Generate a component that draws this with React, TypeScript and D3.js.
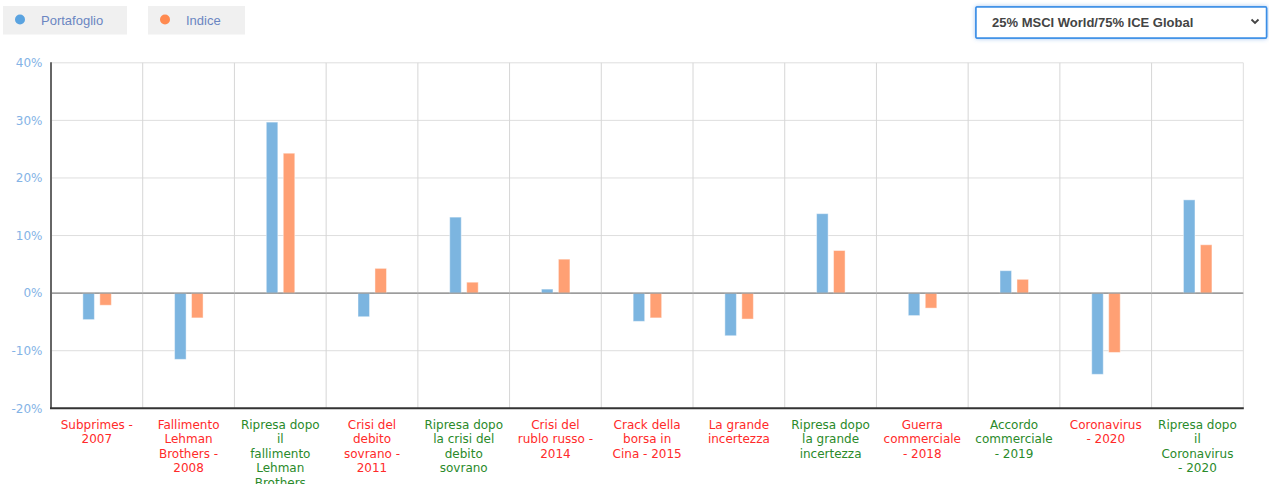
import React from "react";
import * as d3 from "d3";

// Stress-scenario returns (%) for the portfolio and its benchmark index
const categories: string[][] = [
  ["Subprimes -", "2007"],
  ["Fallimento", "Lehman", "Brothers -", "2008"],
  ["Ripresa dopo", "il", "fallimento", "Lehman", "Brothers", "- 2008"],
  ["Crisi del", "debito", "sovrano -", "2011"],
  ["Ripresa dopo", "la crisi del", "debito", "sovrano"],
  ["Crisi del", "rublo russo -", "2014"],
  ["Crack della", "borsa in", "Cina - 2015"],
  ["La grande", "incertezza"],
  ["Ripresa dopo", "la grande", "incertezza"],
  ["Guerra", "commerciale", "- 2018"],
  ["Accordo", "commerciale", "- 2019"],
  ["Coronavirus", "- 2020"],
  ["Ripresa dopo", "il", "Coronavirus", "- 2020"],
];
// true = recovery phase (green label), false = crisis (red label)
const recovery: boolean[] = [false, false, true, false, true, false, false, false, true, false, true, false, true];
const portafoglio: number[] = [-4.6, -11.5, 29.7, -4.1, 13.2, 0.7, -4.9, -7.4, 13.8, -3.9, 3.9, -14.1, 16.2];
const indice: number[] = [-2.1, -4.3, 24.3, 4.3, 1.9, 5.9, -4.3, -4.5, 7.4, -2.6, 2.4, -10.3, 8.4];
const yTicks: number[] = [-20, -10, 0, 10, 20, 30, 40];
const seriesNames: string[] = ["Portafoglio", "Indice"];
const seriesColors: string[] = ["#7cb5e0", "#ffa074"];
const selectedBenchmark = "25% MSCI World/75% ICE Global";

const W = 1269;
const H = 484;
const plot = { left: 51, right: 1243.3, top: 62.8, bottom: 408.3 };

export default function App() {
  const keys = categories.map((_, i) => String(i));
  const x = d3.scaleBand<string>().domain(keys).range([plot.left, plot.right]).padding(0);
  const bw = x.bandwidth();
  const inner = d3
    .scaleBand<string>()
    .domain(seriesNames)
    .range([bw / 2 - 14, bw / 2 + 14.5])
    .paddingInner(0.32)
    .paddingOuter(0);
  const y = d3.scaleLinear().domain([-20, 40]).range([plot.bottom, plot.top]);
  const series = [portafoglio, indice];
  const font = "'DejaVu Sans', Verdana, sans-serif";

  return (
    <div style={{ position: "absolute", left: 0, top: 0, width: W, height: H, overflow: "hidden", background: "#fff" }}>
      <svg width={W} height={H} style={{ display: "block" }}>
        <defs>
          <filter id="glow" x="-10%" y="-40%" width="120%" height="180%">
            <feGaussianBlur in="SourceAlpha" stdDeviation="2" />
            <feFlood floodColor="#4a90e2" floodOpacity="0.55" />
            <feComposite operator="in" in2="SourceAlpha" />
            <feGaussianBlur stdDeviation="2" />
            <feMerge>
              <feMergeNode />
              <feMergeNode in="SourceGraphic" />
            </feMerge>
          </filter>
        </defs>

        {/* Legend chips */}
        {seriesNames.map((name, i) => {
          const bx = i === 0 ? 3 : 148;
          const bwid = i === 0 ? 124 : 97;
          return (
            <g key={name}>
              <rect x={bx} y={6} width={bwid} height={28.5} fill="#f0f0f0" />
              <circle cx={bx + 17} cy={19.5} r={5} fill={i === 0 ? "#5aa3e0" : "#ff8a50"} />
              <text x={bx + 38} y={24.5} fontFamily="'Liberation Sans', Arial, sans-serif" fontSize={13} fill="#6b86c2">
                {name}
              </text>
            </g>
          );
        })}

        {/* Benchmark selector */}
        <g>
          <rect x={976} y={7} width={290.5} height={31} fill="#fff" stroke="#3b8ee6" strokeWidth={1.5} filter="url(#glow)" rx={1} />
          <rect x={976} y={7} width={290.5} height={31} fill="#fff" stroke="#3b8ee6" strokeWidth={1.5} rx={1} />
          <text x={992} y={27} fontFamily="'Liberation Sans', Arial, sans-serif" fontSize={13} fontWeight="bold" fill="#444">
            {selectedBenchmark}
          </text>
          <path d="M1251.5,19.5 L1255,23 L1258.5,19.5" fill="none" stroke="#444" strokeWidth={1.8} />
        </g>

        {/* Horizontal grid */}
        {yTicks.map((t) => (
          <line key={"h" + t} x1={plot.left} x2={plot.right} y1={y(t)} y2={y(t)} stroke={t === 0 ? "#8c8c8c" : "#dedede"} strokeWidth={1} />
        ))}
        {/* Category dividers */}
        {keys.slice(1).map((k) => (
          <line key={"v" + k} x1={x(k)!} x2={x(k)!} y1={plot.top} y2={plot.bottom} stroke="#d6d6d6" strokeWidth={1} />
        ))}
        <line x1={plot.right} x2={plot.right} y1={plot.top} y2={plot.bottom} stroke="#dedede" strokeWidth={1} />

        {/* Bars */}
        {series.map((vals, s) =>
          vals.map((v, i) => {
            const bx = x(keys[i])! + inner(seriesNames[s])!;
            const y0 = y(Math.max(0, v));
            const y1 = y(Math.min(0, v));
            return (
              <rect
                key={s + "-" + i}
                x={bx}
                y={y0}
                width={inner.bandwidth()}
                height={Math.max(0.5, y1 - y0)}
                fill={seriesColors[s]}
                stroke="rgba(255,255,255,0.45)"
                strokeWidth={1}
              />
            );
          })
        )}
        {/* redraw zero line on top */}
        <line x1={plot.left} x2={plot.right} y1={y(0)} y2={y(0)} stroke="#8c8c8c" strokeWidth={1} />

        {/* Axes */}
        <line x1={plot.left} x2={plot.left} y1={plot.top - 0.5} y2={plot.bottom} stroke="#666" strokeWidth={2} />
        <line x1={plot.left - 1} x2={plot.right + 0.5} y1={plot.bottom} y2={plot.bottom} stroke="#333" strokeWidth={2} />

        {/* Y tick labels */}
        {yTicks.map((t) => (
          <text key={"t" + t} x={42.5} y={y(t)} dy="0.35em" textAnchor="end" fontFamily={font} fontSize={12} fill="#84b3e6">
            {t + "%"}
          </text>
        ))}

        {/* Category labels */}
        {categories.map((lines, i) => (
          <text
            key={"c" + i}
            x={x(keys[i])! + bw / 2}
            y={428.5}
            textAnchor="middle"
            fontFamily={font}
            fontSize={12}
            fill={recovery[i] ? "#2a8a2a" : "#ff2a2a"}
          >
            {lines.map((ln, j) => (
              <tspan key={j} x={x(keys[i])! + bw / 2} y={428.5 + j * 14.6}>
                {ln}
              </tspan>
            ))}
          </text>
        ))}
      </svg>
    </div>
  );
}
